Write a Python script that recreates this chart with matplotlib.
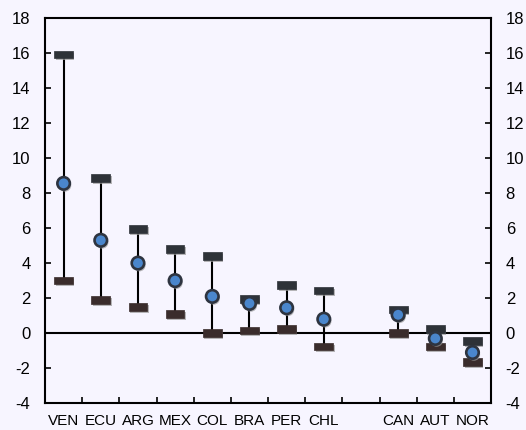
import numpy as np
import matplotlib.pyplot as plt
from matplotlib.path import Path
import matplotlib.patheffects as pe

countries = ["VEN", "ECU", "ARG", "MEX", "COL", "BRA", "PER", "CHL", "", "CAN", "AUT", "NOR"]
high = [15.9, 8.85, 5.95, 4.8, 4.4, 1.95, 2.75, 2.45, np.nan, 1.35, 0.25, -0.45]
mid = [8.55, 5.3, 4.0, 3.0, 2.1, 1.7, 1.45, 0.8, np.nan, 1.05, -0.3, -1.1]
low = [3.0, 1.9, 1.5, 1.1, 0.0, 0.15, 0.25, -0.75, np.nan, 0.0, -0.75, -1.65]

bg = "#f7f5ff"
plt.rcParams["font.family"] = ["Liberation Sans", "DejaVu Sans"]
plt.rcParams["axes.unicode_minus"] = False

fig = plt.figure(figsize=(5.26, 4.30), dpi=100, facecolor=bg)
ax = fig.add_axes([0.0856, 0.0621, 0.848, 0.8967], facecolor=bg)

x = np.arange(len(countries))
ok = ~np.isnan(np.array(mid))

ax.axhline(0, color="black", lw=1.5, zorder=1)
ax.vlines(x[ok], np.array(low)[ok], np.array(high)[ok], color="black", lw=1.5, zorder=2)

# flat cap marker
cap = Path([(-1, -0.4), (1, -0.4), (1, 0.4), (-1, 0.4), (-1, -0.4)],
           [Path.MOVETO, Path.LINETO, Path.LINETO, Path.LINETO, Path.CLOSEPOLY])
shadow = [pe.SimplePatchShadow(offset=(1, -1.5), shadow_rgbFace="#999999", alpha=0.7), pe.Normal()]

ax.plot(x[ok], np.array(high)[ok], ls="none", marker=cap, ms=13.5, mfc="#2e3238",
        mec="#2e3238", mew=0.5, zorder=3, path_effects=shadow)
ax.plot(x[ok], np.array(low)[ok], ls="none", marker=cap, ms=13.5, mfc="#3a2c2c",
        mec="#3a2c2c", mew=0.5, zorder=3, path_effects=shadow)
ax.plot(x[ok], np.array(mid)[ok], ls="none", marker="o", ms=9, mfc="#4a86cc",
        mec="#2e3440", mew=1.9, zorder=4, path_effects=shadow)

ax.set_xlim(-0.5, len(countries) - 0.5)
ax.set_ylim(-4, 18)
ax.set_yticks(np.arange(-4, 19, 2))
ax.set_xticks(x)
ax.set_xticklabels(countries)
ax.set_xticks(np.arange(-0.5, len(countries), 1), minor=True)

ax.tick_params(axis="x", which="major", length=0, labelsize=11, pad=7.5)
ax.tick_params(axis="x", which="minor", direction="in", length=4, width=1.2, top=False)
ax.tick_params(axis="y", direction="in", length=4, width=1.2, right=True,
               labelright=True, labelsize=12, pad=10.5)

for s in ax.spines.values():
    s.set_linewidth(1.5)

fig.savefig("out.png", dpi=100, facecolor=bg)
